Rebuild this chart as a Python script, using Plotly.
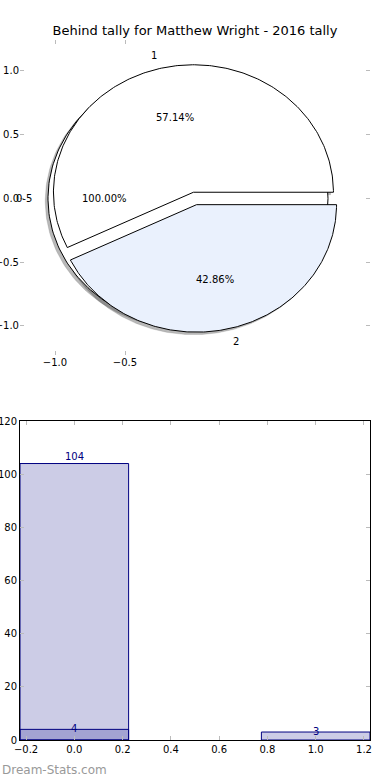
import numpy as np
import plotly.graph_objects as go

title_text = "Behind tally for Matthew Wright - 2016 tally"
watermark = "Dream-Stats.com"

# Pie data
outer_labels = ["0-5"]
outer_values = [7]
inner_labels = ["1", "2"]
inner_values = [4, 3]
inner_colors = ["#ffffff", "#eaf1fd"]
outer_colors = ["#ffffff"]

# Bar data
bar_a_x = [0]
bar_a_y = [104]
bar_b_x = [0, 1]
bar_b_y = [4, 3]

pie_yticks = [-1.0, -0.5, 0.0, 0.5, 1.0]
pie_xticks = [-1.0, -0.5]
bar_xticks = [-0.2, 0.0, 0.2, 0.4, 0.6, 0.8, 1.0, 1.2]
bar_yticks = [0, 20, 40, 60, 80, 100, 120]

EXPLODE = 0.05
SHADOW = -0.02
FONT = "DejaVu Sans"

fig = go.Figure()
annotations = []


def wedge_shapes(values):
    total = float(sum(values))
    out = []
    t = 0.0
    for v in values:
        frac = v / total
        t1, t2 = t, t + 360.0 * frac
        mid = np.radians((t1 + t2) / 2)
        cx, cy = EXPLODE * np.cos(mid), EXPLODE * np.sin(mid)
        th = np.radians(np.linspace(t1, t2, 240))
        xs = cx + np.cos(th)
        ys = cy + np.sin(th)
        if frac < 0.9999:
            xs = np.concatenate([[cx], xs, [cx]])
            ys = np.concatenate([[cy], ys, [cy]])
        out.append(dict(x=xs, y=ys, cx=cx, cy=cy, mid=mid, frac=frac))
        t = t2
    return out


outer = wedge_shapes(outer_values)
inner = wedge_shapes(inner_values)

# shadows (drawn below all wedges)
for w in outer + inner:
    fig.add_trace(go.Scatter(x=w["x"] + SHADOW, y=w["y"] + SHADOW, mode="lines",
                             fill="toself", fillcolor="rgba(77,77,77,0.4)",
                             line=dict(color="rgba(77,77,77,0.3)", width=0.5),
                             xaxis="x", yaxis="y", hoverinfo="skip", showlegend=False))

for group, labels, colors in [(outer, outer_labels, outer_colors), (inner, inner_labels, inner_colors)]:
    for w, lab, col in zip(group, labels, colors):
        fig.add_trace(go.Scatter(x=w["x"], y=w["y"], mode="lines", fill="toself",
                                 fillcolor=col, line=dict(color="black", width=1),
                                 xaxis="x", yaxis="y", hoverinfo="skip", showlegend=False))
        lx = w["cx"] + 1.1 * np.cos(w["mid"])
        ly = w["cy"] + 1.1 * np.sin(w["mid"])
        annotations.append(dict(x=lx, y=ly, xref="x", yref="y", text=lab, showarrow=False,
                                xanchor="right" if lx < 0 else "left", yanchor="middle",
                                font=dict(size=10, color="black", family=FONT)))
        px_ = w["cx"] + 0.6 * np.cos(w["mid"])
        py_ = w["cy"] + 0.6 * np.sin(w["mid"])
        annotations.append(dict(x=px_, y=py_, xref="x", yref="y", text="%.2f%%" % (w["frac"] * 100),
                                showarrow=False, xanchor="center", yanchor="middle",
                                font=dict(size=10, color="black", family=FONT)))

# bars
for xs, ys in [(bar_a_x, bar_a_y), (bar_b_x, bar_b_y)]:
    fig.add_trace(go.Bar(x=xs, y=ys, width=0.45, marker=dict(color="rgba(0,0,128,0.2)",
                         line=dict(color="#000080", width=1)),
                         xaxis="x2", yaxis="y2", hoverinfo="skip", showlegend=False))
    for x, y in zip(xs, ys):
        big = y > 50
        annotations.append(dict(x=x, y=y, xref="x2", yref="y2", text=str(y), showarrow=False,
                                xanchor="center", yanchor="bottom" if big else "middle",
                                yshift=0 if big else 1,
                                font=dict(size=10, color="#000080", family=FONT)))

annotations.append(dict(x=0, y=10 / 780, xref="paper", yref="paper", text=watermark, showarrow=False,
                        xanchor="left", yanchor="middle",
                        font=dict(size=12, color="#999999", family=FONT)))

tick_common = dict(ticks="inside", ticklen=4, tickcolor="#bbbbbb", tickwidth=1,
                   showgrid=False, zeroline=False, automargin=False,
                   tickfont=dict(size=10, color="black", family=FONT))

fig.update_layout(
    width=390, height=780,
    margin=dict(l=0, r=0, t=0, b=0, autoexpand=False),
    paper_bgcolor="white", plot_bgcolor="white",
    barmode="overlay",
    title=dict(text=title_text, x=0.5, xanchor="center", y=1 - 30 / 780, yanchor="middle",
               automargin=False, font=dict(size=13, color="black", family=FONT)),
    xaxis=dict(domain=[20 / 390, 370 / 390], range=[-1.25, 1.25], anchor="y",
               tickvals=pie_xticks, tickformat=".1f", showline=False, mirror="ticks", **tick_common),
    yaxis=dict(domain=[1 - 355 / 780, 1 - 40 / 780], range=[-1.228, 1.243], anchor="x",
               tickvals=pie_yticks, tickformat=".1f", showline=False, mirror="ticks", **tick_common),
    xaxis2=dict(domain=[20 / 390, 370 / 390], range=[-0.225, 1.225], anchor="y2",
                tickvals=bar_xticks, tickformat=".1f", showline=True, linecolor="black", linewidth=1,
                mirror="ticks", **tick_common),
    yaxis2=dict(domain=[1 - 740 / 780, 1 - 421 / 780], range=[0, 120], anchor="x2",
                tickvals=bar_yticks, showline=True, linecolor="black", linewidth=1,
                mirror="ticks", **tick_common),
    annotations=annotations,
)

fig.write_html("out.html", config={"displayModeBar": False, "staticPlot": True},
               post_script="document.body.style.margin='0';document.body.style.padding='0';")
